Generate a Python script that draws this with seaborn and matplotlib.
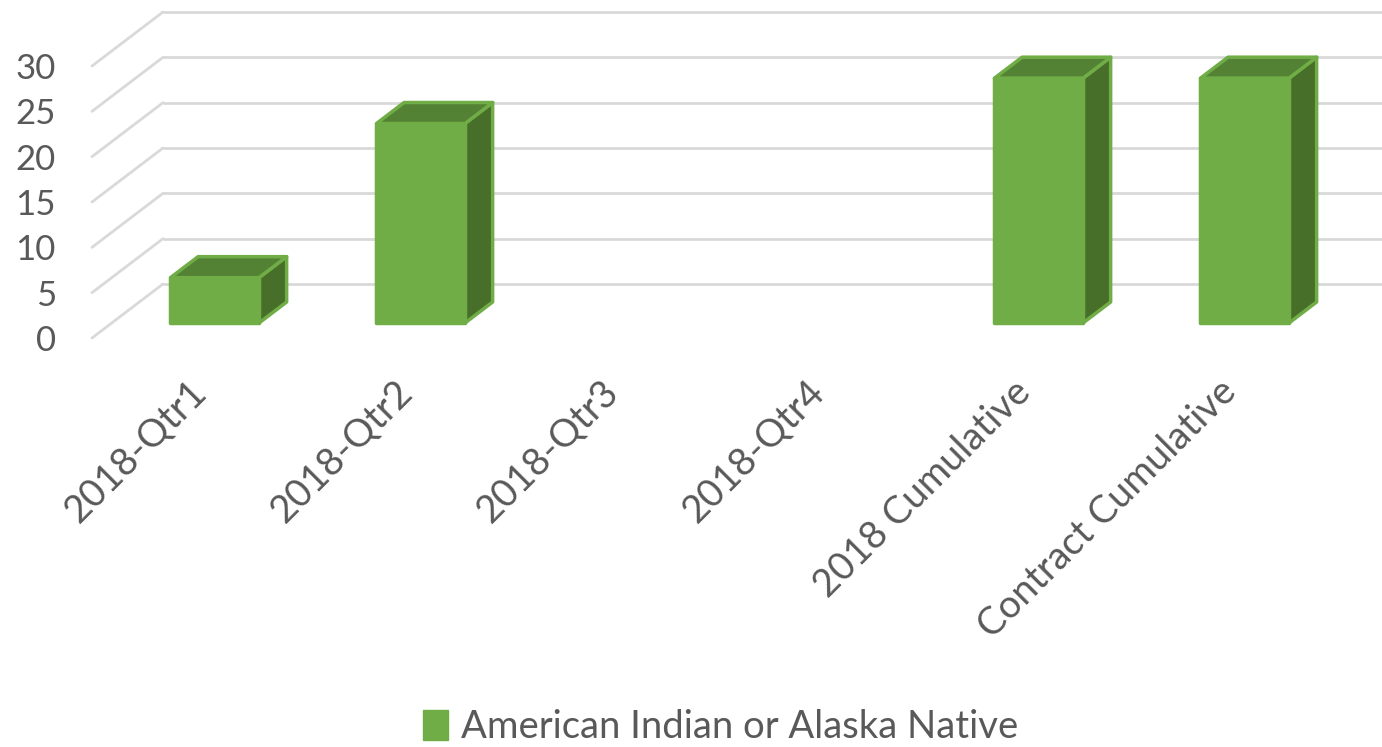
import numpy as np
import matplotlib
matplotlib.use("Agg")
import matplotlib.pyplot as plt
from matplotlib.patches import Polygon, Patch
import seaborn as sns

# ---- data ----
categories = ["2018-Qtr1", "2018-Qtr2", "2018-Qtr3", "2018-Qtr4",
              "2018 Cumulative", "Contract Cumulative"]
values = [5, 22, 0, 0, 27, 27]
series_name = "American Indian or Alaska Native"
yticks = [0, 5, 10, 15, 20, 25, 30]

# ---- style ----
GREEN = "#70AD47"
TOP = "#548235"
SIDE = "#476F2A"
GRID = "#D9D9D9"
TXT = "#595959"

sns.set_theme(style="white")
plt.rcParams["font.family"] = ["Lato", "DejaVu Sans"]

W, H = 1382, 747
fig = plt.figure(figsize=(W / 100, H / 100), dpi=100)
# axes = front plane of the floor
x_left, x_right = 92, 1328
y_bot, y_top = 338, 66
ax = fig.add_axes([x_left / W, 1 - y_bot / H, (x_right - x_left) / W, (y_bot - y_top) / H])
ax.set_xlim(-0.5, len(categories) - 0.5)
ax.set_ylim(0, 30)

px_x = (x_right - x_left) / len(categories)
px_y = (y_bot - y_top) / 30.0
# depth vector (pixels -> data units)
Dx = 71 / px_x
Dy = 54 / px_y
f_front, f_back = 0.278, 0.667

# back wall + diagonals
for v in yticks:
    ax.plot([-0.5 + Dx, len(categories) - 0.5 + Dx + 1], [v + Dy, v + Dy],
            color=GRID, lw=2, clip_on=False, zorder=0, solid_capstyle="butt")
    ax.plot([-0.5, -0.5 + Dx], [v, v + Dy], color=GRID, lw=2,
            clip_on=False, zorder=0)

sns.barplot(x=categories, y=values, color=GREEN, saturation=1, width=0.43,
            edgecolor=GREEN, linewidth=2.5, ax=ax, zorder=3)

for p in list(ax.patches):
    x0, w, h = p.get_x(), p.get_width(), p.get_height()
    p.set_x(x0 + f_front * Dx)
    p.set_y(f_front * Dy)
    p.set_joinstyle("round")
    p.set_clip_on(False)
    if h <= 0:
        p.set_visible(False)
        continue
    x0f, x1f = x0 + f_front * Dx, x0 + w + f_front * Dx
    x0b, x1b = x0 + f_back * Dx, x0 + w + f_back * Dx
    yf, yb = f_front * Dy, f_back * Dy
    side = Polygon([(x1f, yf), (x1b, yb), (x1b, yb + h), (x1f, yf + h)],
                   closed=True, facecolor=SIDE, edgecolor=GREEN, lw=2.5,
                   joinstyle="round", zorder=2, clip_on=False)
    top = Polygon([(x0f, yf + h), (x1f, yf + h), (x1b, yb + h), (x0b, yb + h)],
                  closed=True, facecolor=TOP, edgecolor=GREEN, lw=2.5,
                  joinstyle="round", zorder=2, clip_on=False)
    ax.add_patch(side)
    ax.add_patch(top)

# ticks
ax.set_yticks(yticks)
ax.set_yticklabels([str(t) for t in yticks])
ax.tick_params(axis="y", length=0, pad=26, labelsize=25, labelcolor=TXT)
ax.set_xticks(np.arange(len(categories)) - 7 / px_x)
ax.set_xticklabels(categories, rotation=45, ha="right", va="top",
                   rotation_mode="anchor")
ax.tick_params(axis="x", length=0, pad=25.5, labelsize=27.5, labelcolor=TXT)
ax.set_xlabel("")
ax.set_ylabel("")
ax.grid(False)
for s in ax.spines.values():
    s.set_visible(False)
ax.set_facecolor("none")

handle = Patch(facecolor=GREEN, edgecolor=GREEN)
fig.legend([handle], [series_name], loc="center", bbox_to_anchor=(721 / W, 1 - 727 / H),
           frameon=False, fontsize=27.5, labelcolor=TXT, handlelength=0.66,
           handleheight=0.82, handletextpad=0.34)

fig.savefig("out.png", dpi=100, facecolor="white")
